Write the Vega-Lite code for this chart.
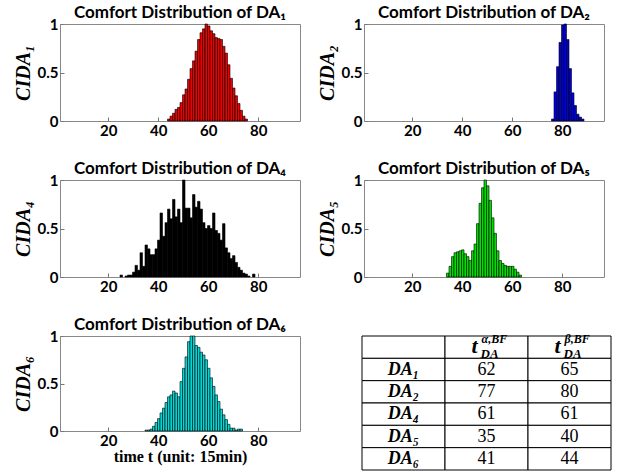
{
  "$schema": "https://vega.github.io/schema/vega-lite/v6.json",
  "padding": {"left": 12, "top": 3, "right": 5, "bottom": 0},
  "background": "white",
  "datasets": {
    "d1": [{"t":44,"ci":0.02},{"t":45,"ci":0.05},{"t":46,"ci":0.08},{"t":47,"ci":0.12},{"t":48,"ci":0.14},{"t":49,"ci":0.19},{"t":50,"ci":0.27},{"t":51,"ci":0.33},{"t":52,"ci":0.43},{"t":53,"ci":0.54},{"t":54,"ci":0.62},{"t":55,"ci":0.72},{"t":56,"ci":0.84},{"t":57,"ci":0.91},{"t":58,"ci":0.95},{"t":59,"ci":1.0},{"t":60,"ci":0.98},{"t":61,"ci":0.93},{"t":62,"ci":0.90},{"t":63,"ci":0.86},{"t":64,"ci":0.85},{"t":65,"ci":0.84},{"t":66,"ci":0.77},{"t":67,"ci":0.70},{"t":68,"ci":0.58},{"t":69,"ci":0.44},{"t":70,"ci":0.34},{"t":71,"ci":0.26},{"t":72,"ci":0.18},{"t":73,"ci":0.11},{"t":74,"ci":0.05},{"t":75,"ci":0.02}],
    "d2": [{"t":76,"ci":0.02},{"t":77,"ci":0.30},{"t":78,"ci":0.56},{"t":79,"ci":0.81},{"t":80,"ci":0.99},{"t":81,"ci":1.0},{"t":82,"ci":0.84},{"t":83,"ci":0.54},{"t":84,"ci":0.29},{"t":85,"ci":0.16},{"t":86,"ci":0.07},{"t":87,"ci":0.04},{"t":88,"ci":0.02}],
    "d4": [{"t":25,"ci":0.02},{"t":27,"ci":0.01},{"t":28,"ci":0.02},{"t":29,"ci":0.02},{"t":30,"ci":0.05},{"t":31,"ci":0.12},{"t":32,"ci":0.07},{"t":33,"ci":0.25},{"t":34,"ci":0.11},{"t":35,"ci":0.33},{"t":36,"ci":0.29},{"t":37,"ci":0.23},{"t":38,"ci":0.23},{"t":39,"ci":0.29},{"t":40,"ci":0.38},{"t":41,"ci":0.66},{"t":42,"ci":0.42},{"t":43,"ci":0.56},{"t":44,"ci":0.70},{"t":45,"ci":0.60},{"t":46,"ci":0.80},{"t":47,"ci":0.62},{"t":48,"ci":0.70},{"t":49,"ci":0.56},{"t":50,"ci":1.0},{"t":51,"ci":0.71},{"t":52,"ci":0.71},{"t":53,"ci":0.61},{"t":54,"ci":0.85},{"t":55,"ci":0.72},{"t":56,"ci":0.78},{"t":57,"ci":0.70},{"t":58,"ci":0.56},{"t":59,"ci":0.50},{"t":60,"ci":0.53},{"t":61,"ci":0.50},{"t":62,"ci":0.66},{"t":63,"ci":0.48},{"t":64,"ci":0.45},{"t":65,"ci":0.38},{"t":66,"ci":0.55},{"t":67,"ci":0.30},{"t":68,"ci":0.25},{"t":69,"ci":0.19},{"t":70,"ci":0.22},{"t":71,"ci":0.15},{"t":72,"ci":0.10},{"t":73,"ci":0.07},{"t":74,"ci":0.04},{"t":75,"ci":0.03},{"t":76,"ci":0.01},{"t":78,"ci":0.03}],
    "d5": [{"t":34,"ci":0.04},{"t":35,"ci":0.11},{"t":36,"ci":0.21},{"t":37,"ci":0.25},{"t":38,"ci":0.26},{"t":39,"ci":0.27},{"t":40,"ci":0.28},{"t":41,"ci":0.24},{"t":42,"ci":0.21},{"t":43,"ci":0.17},{"t":44,"ci":0.27},{"t":45,"ci":0.34},{"t":46,"ci":0.55},{"t":47,"ci":0.76},{"t":48,"ci":0.92},{"t":49,"ci":1.0},{"t":50,"ci":0.94},{"t":51,"ci":0.79},{"t":52,"ci":0.61},{"t":53,"ci":0.45},{"t":54,"ci":0.27},{"t":55,"ci":0.17},{"t":56,"ci":0.14},{"t":57,"ci":0.12},{"t":58,"ci":0.11},{"t":59,"ci":0.11},{"t":60,"ci":0.11},{"t":61,"ci":0.08},{"t":62,"ci":0.05},{"t":63,"ci":0.02}],
    "d6": [{"t":35,"ci":0.01},{"t":36,"ci":0.01},{"t":37,"ci":0.02},{"t":38,"ci":0.05},{"t":39,"ci":0.09},{"t":40,"ci":0.13},{"t":41,"ci":0.19},{"t":42,"ci":0.24},{"t":43,"ci":0.30},{"t":44,"ci":0.36},{"t":45,"ci":0.38},{"t":46,"ci":0.42},{"t":47,"ci":0.40},{"t":48,"ci":0.36},{"t":49,"ci":0.52},{"t":50,"ci":0.66},{"t":51,"ci":0.78},{"t":52,"ci":0.94},{"t":53,"ci":1.0},{"t":54,"ci":1.0},{"t":55,"ci":0.90},{"t":56,"ci":0.88},{"t":57,"ci":0.83},{"t":58,"ci":0.80},{"t":59,"ci":0.75},{"t":60,"ci":0.66},{"t":61,"ci":0.56},{"t":62,"ci":0.47},{"t":63,"ci":0.38},{"t":64,"ci":0.31},{"t":65,"ci":0.23},{"t":66,"ci":0.17},{"t":67,"ci":0.12},{"t":68,"ci":0.07},{"t":69,"ci":0.03},{"t":70,"ci":0.03},{"t":71,"ci":0.01},{"t":72,"ci":0.02},{"t":73,"ci":0.02}],
    "tab": [
      {"r":"hdr","c":"c0","k":"blank","v":"","sup":"","sub":""},
      {"r":"hdr","c":"c1","k":"head","v":"t","sup":"α,BF","sub":"DA"},
      {"r":"hdr","c":"c2","k":"head","v":"t","sup":"β,BF","sub":"DA"},
      {"r":"DA1","c":"c0","k":"lab","v":"DA₁"},{"r":"DA1","c":"c1","k":"num","v":"62"},{"r":"DA1","c":"c2","k":"num","v":"65"},
      {"r":"DA2","c":"c0","k":"lab","v":"DA₂"},{"r":"DA2","c":"c1","k":"num","v":"77"},{"r":"DA2","c":"c2","k":"num","v":"80"},
      {"r":"DA4","c":"c0","k":"lab","v":"DA₄"},{"r":"DA4","c":"c1","k":"num","v":"61"},{"r":"DA4","c":"c2","k":"num","v":"61"},
      {"r":"DA5","c":"c0","k":"lab","v":"DA₅"},{"r":"DA5","c":"c1","k":"num","v":"35"},{"r":"DA5","c":"c2","k":"num","v":"40"},
      {"r":"DA6","c":"c0","k":"lab","v":"DA₆"},{"r":"DA6","c":"c1","k":"num","v":"41"},{"r":"DA6","c":"c2","k":"num","v":"44"}
    ]
  },
  "vconcat": [
    {
      "hconcat": [
        {
          "title": "Comfort Distribution of DA₁",
          "width": 240, "height": 97,
          "data": {"name": "d1"},
          "mark": {"type": "bar", "fill": "#ee0000", "stroke": "#000", "strokeWidth": 0.6},
          "encoding": {
            "x": {"field": "t", "type": "ordinal", "scale": {"domain": [1,2,3,4,5,6,7,8,9,10,11,12,13,14,15,16,17,18,19,20,21,22,23,24,25,26,27,28,29,30,31,32,33,34,35,36,37,38,39,40,41,42,43,44,45,46,47,48,49,50,51,52,53,54,55,56,57,58,59,60,61,62,63,64,65,66,67,68,69,70,71,72,73,74,75,76,77,78,79,80,81,82,83,84,85,86,87,88,89,90,91,92,93,94,95,96], "paddingInner": 0, "paddingOuter": 0}, "axis": {"values": [20,40,60,80], "labelAngle": 0, "title": null}},
            "y": {"field": "ci", "type": "quantitative", "scale": {"domain": [0, 1]}, "axis": {"values": [0, 0.5, 1], "format": "~g", "title": "CIDA₁"}}
          }
        },
        {
          "title": "Comfort Distribution of DA₂",
          "width": 240, "height": 97,
          "data": {"name": "d2"},
          "mark": {"type": "bar", "fill": "#0000dd", "stroke": "#000", "strokeWidth": 0.6},
          "encoding": {
            "x": {"field": "t", "type": "ordinal", "scale": {"domain": [1,2,3,4,5,6,7,8,9,10,11,12,13,14,15,16,17,18,19,20,21,22,23,24,25,26,27,28,29,30,31,32,33,34,35,36,37,38,39,40,41,42,43,44,45,46,47,48,49,50,51,52,53,54,55,56,57,58,59,60,61,62,63,64,65,66,67,68,69,70,71,72,73,74,75,76,77,78,79,80,81,82,83,84,85,86,87,88,89,90,91,92,93,94,95,96], "paddingInner": 0, "paddingOuter": 0}, "axis": {"values": [20,40,60,80], "labelAngle": 0, "title": null}},
            "y": {"field": "ci", "type": "quantitative", "scale": {"domain": [0, 1]}, "axis": {"values": [0, 0.5, 1], "format": "~g", "title": "CIDA₂"}}
          }
        }
      ],
      "spacing": 15
    },
    {
      "hconcat": [
        {
          "title": "Comfort Distribution of DA₄",
          "width": 240, "height": 97,
          "data": {"name": "d4"},
          "mark": {"type": "bar", "fill": "#000", "stroke": "#000", "strokeWidth": 0.6},
          "encoding": {
            "x": {"field": "t", "type": "ordinal", "scale": {"domain": [1,2,3,4,5,6,7,8,9,10,11,12,13,14,15,16,17,18,19,20,21,22,23,24,25,26,27,28,29,30,31,32,33,34,35,36,37,38,39,40,41,42,43,44,45,46,47,48,49,50,51,52,53,54,55,56,57,58,59,60,61,62,63,64,65,66,67,68,69,70,71,72,73,74,75,76,77,78,79,80,81,82,83,84,85,86,87,88,89,90,91,92,93,94,95,96], "paddingInner": 0, "paddingOuter": 0}, "axis": {"values": [20,40,60,80], "labelAngle": 0, "title": null}},
            "y": {"field": "ci", "type": "quantitative", "scale": {"domain": [0, 1]}, "axis": {"values": [0, 0.5, 1], "format": "~g", "title": "CIDA₄"}}
          }
        },
        {
          "title": "Comfort Distribution of DA₅",
          "width": 240, "height": 97,
          "data": {"name": "d5"},
          "mark": {"type": "bar", "fill": "#00dd00", "stroke": "#000", "strokeWidth": 0.6},
          "encoding": {
            "x": {"field": "t", "type": "ordinal", "scale": {"domain": [1,2,3,4,5,6,7,8,9,10,11,12,13,14,15,16,17,18,19,20,21,22,23,24,25,26,27,28,29,30,31,32,33,34,35,36,37,38,39,40,41,42,43,44,45,46,47,48,49,50,51,52,53,54,55,56,57,58,59,60,61,62,63,64,65,66,67,68,69,70,71,72,73,74,75,76,77,78,79,80,81,82,83,84,85,86,87,88,89,90,91,92,93,94,95,96], "paddingInner": 0, "paddingOuter": 0}, "axis": {"values": [20,40,60,80], "labelAngle": 0, "title": null}},
            "y": {"field": "ci", "type": "quantitative", "scale": {"domain": [0, 1]}, "axis": {"values": [0, 0.5, 1], "format": "~g", "title": "CIDA₅"}}
          }
        }
      ],
      "spacing": 15
    },
    {
      "hconcat": [
        {
          "title": "Comfort Distribution of DA₆",
          "width": 240, "height": 95,
          "data": {"name": "d6"},
          "mark": {"type": "bar", "fill": "#00d8d8", "stroke": "#000", "strokeWidth": 0.6},
          "encoding": {
            "x": {"field": "t", "type": "ordinal", "scale": {"domain": [1,2,3,4,5,6,7,8,9,10,11,12,13,14,15,16,17,18,19,20,21,22,23,24,25,26,27,28,29,30,31,32,33,34,35,36,37,38,39,40,41,42,43,44,45,46,47,48,49,50,51,52,53,54,55,56,57,58,59,60,61,62,63,64,65,66,67,68,69,70,71,72,73,74,75,76,77,78,79,80,81,82,83,84,85,86,87,88,89,90,91,92,93,94,95,96], "paddingInner": 0, "paddingOuter": 0}, "axis": {"values": [20,40,60,80], "labelAngle": 0, "title": "time t (unit: 15min)", "titleFont": "Liberation Serif", "titleFontStyle": "normal", "titleFontWeight": "bold", "titleFontSize": 16, "titlePadding": 0}},
            "y": {"field": "ci", "type": "quantitative", "scale": {"domain": [0, 1]}, "axis": {"values": [0, 0.5, 1], "format": "~g", "title": "CIDA₆"}}
          }
        },
        {
          "title": " ",
          "width": 249, "height": 134,
          "data": {"name": "tab"},
          "view": {"stroke": null},
          "encoding": {
            "x": {"field": "c", "type": "nominal", "scale": {"domain": ["c0","c1","c2"], "paddingInner": 0, "paddingOuter": 0}, "axis": null},
            "y": {"field": "r", "type": "nominal", "scale": {"domain": ["hdr","DA1","DA2","DA4","DA5","DA6"], "paddingInner": 0, "paddingOuter": 0}, "axis": null}
          },
          "layer": [
            {"mark": {"type": "rect", "fill": "white", "stroke": "#000", "strokeWidth": 1}},
            {"transform": [{"filter": "datum.k === 'num'"}], "mark": {"type": "text", "font": "Liberation Serif", "fontSize": 18, "color": "#000"}, "encoding": {"text": {"field": "v"}}},
            {"transform": [{"filter": "datum.k === 'lab'"}], "mark": {"type": "text", "font": "Liberation Serif", "fontSize": 18, "fontWeight": "bold", "fontStyle": "italic", "color": "#000"}, "encoding": {"text": {"field": "v"}}},
            {"transform": [{"filter": "datum.k === 'head'"}], "mark": {"type": "text", "font": "Liberation Serif", "fontSize": 22, "fontWeight": "bold", "fontStyle": "italic", "align": "right", "dx": -9, "dy": -1, "color": "#000"}, "encoding": {"text": {"field": "v"}}},
            {"transform": [{"filter": "datum.k === 'head'"}], "mark": {"type": "text", "font": "Liberation Serif", "fontSize": 12, "fontWeight": "bold", "fontStyle": "italic", "align": "left", "dx": -5, "dy": -8, "color": "#000"}, "encoding": {"text": {"field": "sup"}}},
            {"transform": [{"filter": "datum.k === 'head'"}], "mark": {"type": "text", "font": "Liberation Serif", "fontSize": 13, "fontWeight": "bold", "fontStyle": "italic", "align": "left", "dx": -6, "dy": 7, "color": "#000"}, "encoding": {"text": {"field": "sub"}}}
          ]
        }
      ],
      "spacing": 60
    }
  ],
  "spacing": 20,
  "config": {
    "view": {"stroke": "#888", "strokeWidth": 1},
    "axis": {"labelFont": "Lato", "labelFontWeight": "bold", "labelFontSize": 15, "labelColor": "#000", "domain": false, "tickSize": -4, "tickColor": "#777", "labelPadding": 6, "grid": false, "titleFont": "Liberation Serif", "titleFontStyle": "italic", "titleFontWeight": "bold", "titleFontSize": 20, "titleColor": "#000", "titlePadding": 4},
    "title": {"font": "Lato", "fontWeight": "bold", "fontSize": 17, "color": "#000", "offset": -5}
  }
}
